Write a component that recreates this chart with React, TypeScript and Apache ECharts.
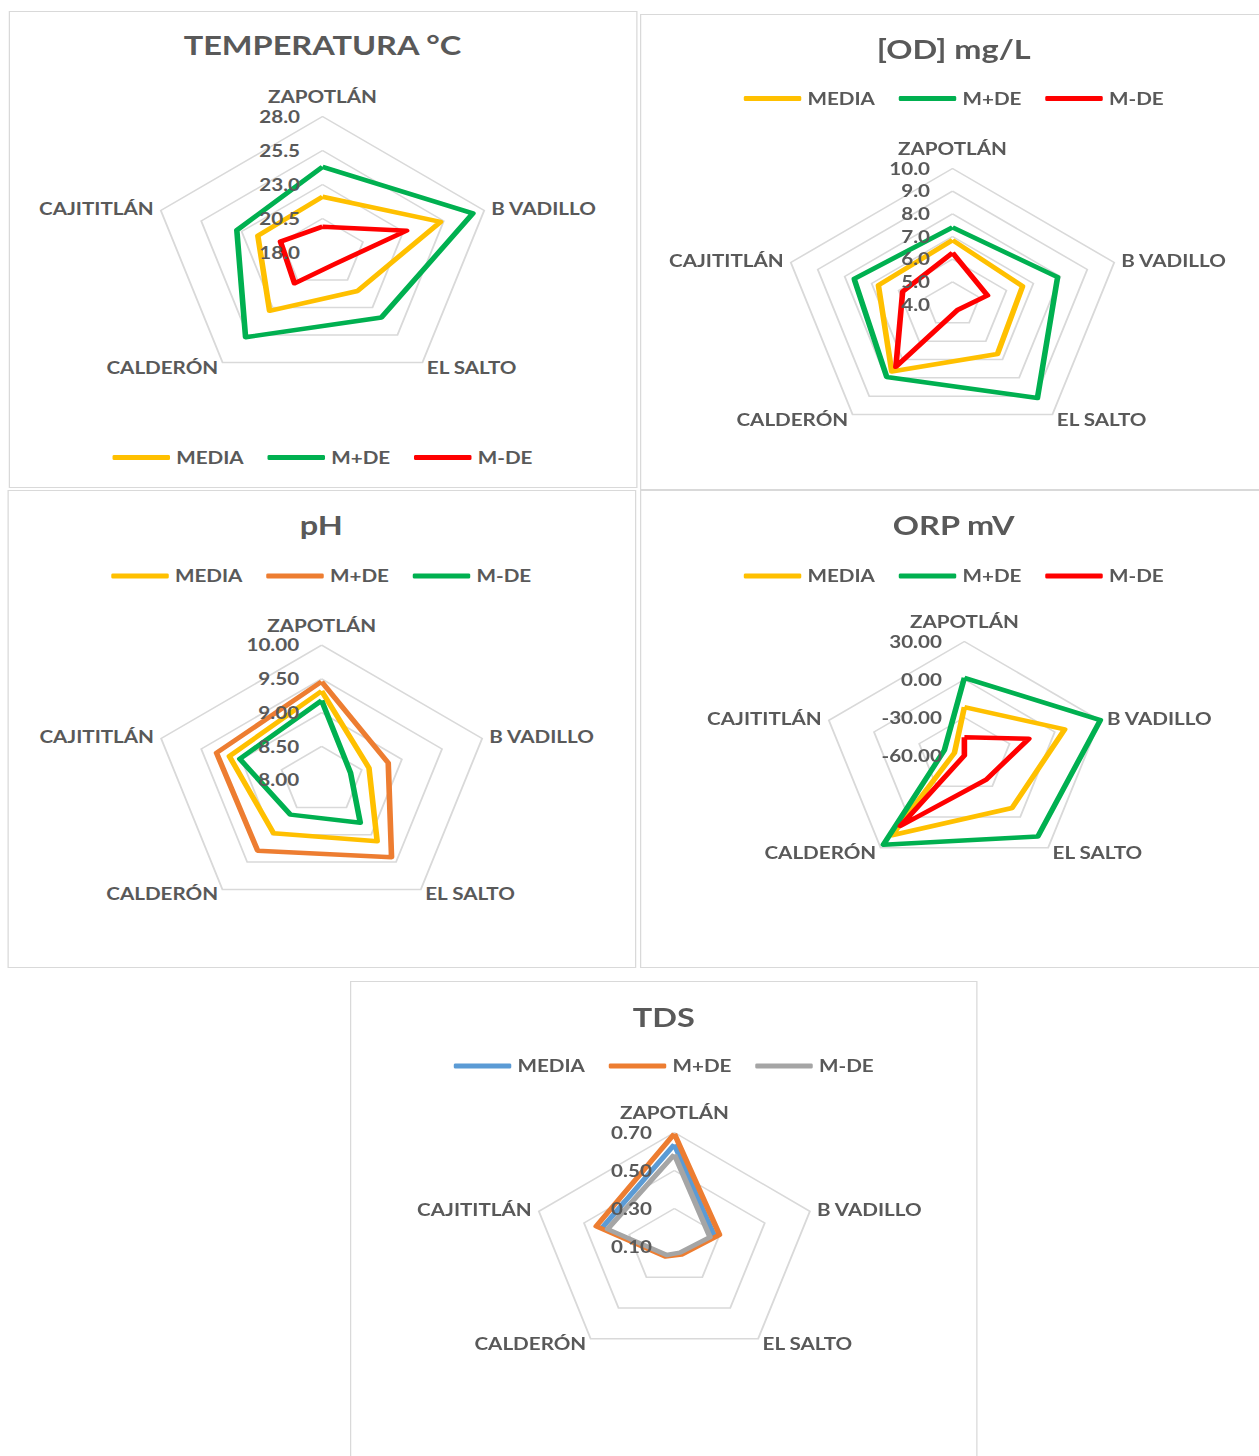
import React, { useEffect, useRef } from "react";
import * as echarts from "echarts";

// ---------------- data ----------------
const CATEGORIES = ["ZAPOTLÁN", "B VADILLO", "EL SALTO", "CALDERÓN", "CAJITITLÁN"];
const SERIES_NAMES = ["MEDIA", "M+DE", "M-DE"];

const TEMP_MEDIA = [22.1, 25.3, 21.5, 23.3, 22.0];
const TEMP_MAS = [24.3, 27.3, 23.9, 25.7, 23.3];
const TEMP_MENOS = [19.9, 23.2, 19.1, 20.8, 20.6];

const OD_MEDIA = [6.84, 6.6, 6.7, 7.65, 6.75];
const OD_MAS = [7.4, 7.9, 9.1, 7.95, 7.65];
const OD_MENOS = [6.28, 5.3, 4.3, 7.4, 5.85];

const PH_MEDIA = [9.32, 8.59, 9.12, 8.97, 9.15];
const PH_MAS = [9.46, 8.83, 9.41, 9.29, 9.31];
const PH_MENOS = [9.18, 8.36, 8.78, 8.63, 9.02];

const ORP_MEDIA = [-21.8, 6.6, -8.8, 17.8, -53.4];
const ORP_MAS = [1.3, 30.3, 19, 27, -46.7];
const ORP_MENOS = [-45.5, -17.2, -36.5, 8.8, -60];

const TDS_MEDIA = [0.637, 0.277, 0.145, 0.16, 0.42];
const TDS_MAS = [0.693, 0.3, 0.152, 0.165, 0.446];
const TDS_MENOS = [0.584, 0.258, 0.14, 0.155, 0.396];

// axis scales: [min, max, splitNumber, decimals]
const TEMP_SCALE = [18, 28, 4, 1];
const OD_SCALE = [4, 10, 6, 1];
const PH_SCALE = [8, 10, 4, 2];
const ORP_SCALE = [-60, 30, 3, 2];
const TDS_SCALE = [0.1, 0.7, 3, 2];

// ---------------- styles / layout ----------------
const FONT = "Lato, 'Noto Sans', sans-serif";
const TEXT = "#595959";
const YELLOW = "#FFC000";
const GREEN = "#00B050";
const RED = "#FF0000";
const ORANGE = "#ED7D31";
const BLUE = "#5B9BD5";
const GRAY = "#A5A5A5";
const STRETCH = 1.25;

// ECharts radar runs counter-clockwise; Excel runs clockwise.
const ORDER = [0, 4, 3, 2, 1];

const PANELS = [
  {
    id: "temp", title: "TEMPERATURA °C", scale: TEMP_SCALE,
    values: [TEMP_MEDIA, TEMP_MAS, TEMP_MENOS], colors: [YELLOW, GREEN, RED],
    box: { left: 7.2, top: 11, w: 502.4, h: 477 },
    cx: 250, cy: 240.5, r: 136, titleTop: 15, legendTop: 432,
  },
  {
    id: "od", title: "[OD] mg/L", scale: OD_SCALE,
    values: [OD_MEDIA, OD_MAS, OD_MENOS], colors: [YELLOW, GREEN, RED],
    box: { left: 512, top: 14, w: 502.4, h: 476 },
    cx: 249, cy: 289.5, r: 136, titleTop: 16, legendTop: 70,
  },
  {
    id: "ph", title: "pH", scale: PH_SCALE,
    values: [PH_MEDIA, PH_MAS, PH_MENOS], colors: [YELLOW, ORANGE, GREEN],
    box: { left: 6.4, top: 490, w: 502.4, h: 478 },
    cx: 250.3, cy: 289.2, r: 135, titleTop: 16, legendTop: 71.5,
  },
  {
    id: "orp", title: "ORP mV", scale: ORP_SCALE,
    values: [ORP_MEDIA, ORP_MAS, ORP_MENOS], colors: [YELLOW, GREEN, RED],
    box: { left: 512, top: 490, w: 502.4, h: 478 },
    cx: 258.5, cy: 264.5, r: 114, titleTop: 16, legendTop: 71.5,
  },
  {
    id: "tds", title: "TDS", scale: TDS_SCALE,
    values: [TDS_MEDIA, TDS_MAS, TDS_MENOS], colors: [BLUE, ORANGE, GRAY],
    box: { left: 280, top: 981, w: 502.4, h: 478 },
    cx: 258.5, cy: 264.5, r: 114, titleTop: 17, legendTop: 70.5,
  },
];

function buildOption(p: any) {
  const [min, max, split, decimals] = p.scale;
  const makeIndicators = (withLabel: boolean) =>
    ORDER.map((i, k) => {
      const ind: any = { name: CATEGORIES[i], min, max };
      if (k === 0) {
        ind.nameGap = 11;
        if (withLabel) ind.axisLabel = { show: true };
      }
      return ind;
    });
  const radarBase = {
    center: [p.cx, p.cy],
    radius: p.r,
    startAngle: 90,
    splitNumber: split,
    shape: "polygon",
    axisNameGap: 6,
    axisLine: { show: false },
    axisTick: { show: false },
    splitArea: { show: false },
  };
  return {
    animation: false,
    title: {
      text: p.title,
      left: "center",
      top: p.titleTop,
      textStyle: { fontFamily: FONT, fontSize: 26, fontWeight: "bold", color: TEXT },
    },
    legend: {
      data: SERIES_NAMES,
      left: "center",
      top: p.legendTop,
      icon: "roundRect",
      itemWidth: 46,
      itemHeight: 5,
      itemGap: 19,
      selectedMode: false,
      textStyle: { fontFamily: FONT, fontSize: 16.5, fontWeight: "bold", color: TEXT },
    },
    radar: [
      {
        ...radarBase,
        indicator: makeIndicators(false),
        axisName: { color: TEXT, fontFamily: FONT, fontSize: 16.5, fontWeight: "bold" },
        axisLabel: { show: false },
        splitLine: { lineStyle: { color: "#D9D9D9", width: 1.5 } },
      },
      {
        ...radarBase,
        z: 10,
        indicator: makeIndicators(true),
        axisName: { show: false },
        splitLine: { show: false },
        axisLabel: {
          show: false,
          color: TEXT,
          fontFamily: FONT,
          fontSize: 16.5,
          fontWeight: "bold",
          margin: 18,
          formatter: (v: number) => Number(v).toFixed(decimals),
        },
      },
    ],
    series: [
      {
        type: "radar",
        radarIndex: 0,
        symbol: "none",
        data: p.values.map((vals: number[], j: number) => ({
          name: SERIES_NAMES[j],
          value: ORDER.map((i) => vals[i]),
          lineStyle: { color: p.colors[j], width: 4.5 },
          itemStyle: { color: p.colors[j] },
        })),
      },
    ],
  };
}

function RadarPanel({ p }: { p: any }) {
  const ref = useRef<HTMLDivElement>(null);
  useEffect(() => {
    const chart = echarts.init(ref.current!, null, { renderer: "svg" });
    chart.setOption(buildOption(p));
    return () => chart.dispose();
  }, [p]);
  return (
    <div
      style={{
        position: "absolute",
        left: p.box.left,
        top: p.box.top,
        width: p.box.w,
        height: p.box.h,
        border: "1.5px solid #D9D9D9",
        boxSizing: "border-box",
        background: "#fff",
      }}
    >
      <div ref={ref} style={{ position: "absolute", left: 0, top: 0, width: "100%", height: "100%" }} />
    </div>
  );
}

export default function App() {
  return (
    <div
      style={{
        position: "absolute",
        left: 0,
        top: 0,
        width: 1259,
        height: 1456,
        overflow: "hidden",
        background: "#fff",
      }}
    >
      <div
        style={{
          position: "absolute",
          left: 0,
          top: 0,
          width: 1259 / STRETCH,
          height: 1456,
          transform: `scaleX(${STRETCH})`,
          transformOrigin: "0 0",
        }}
      >
        {PANELS.map((p) => (
          <RadarPanel key={p.id} p={p} />
        ))}
      </div>
    </div>
  );
}
